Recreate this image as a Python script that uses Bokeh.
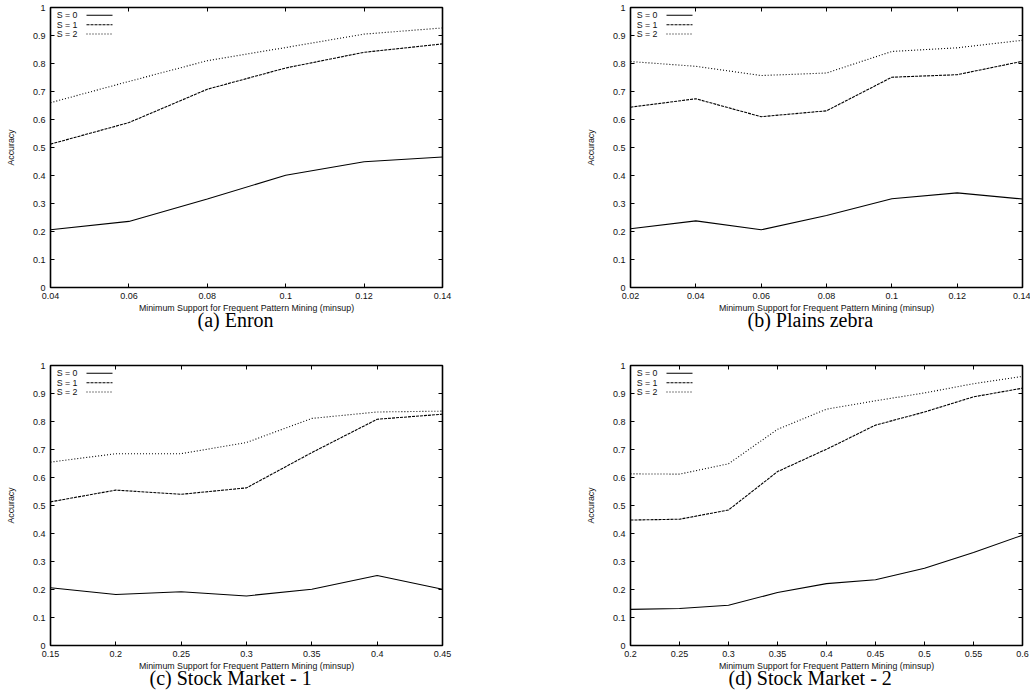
from bokeh.plotting import figure
from bokeh.models import Range1d, FixedTicker, LinearAxis, Label, Arrow, Title
from bokeh.layouts import column, row
from bokeh.embed import file_html
from bokeh.resources import INLINE

# ---------------- data ----------------
Y_TICKS = [0, 0.1, 0.2, 0.3, 0.4, 0.5, 0.6, 0.7, 0.8, 0.9, 1]
Y_TICK_LABELS = ["0", "0.1", "0.2", "0.3", "0.4", "0.5", "0.6", "0.7", "0.8", "0.9", "1"]

SERIES_NAMES = ["S = 0", "S = 1", "S = 2"]
X_TITLE = "Minimum Support for Frequent Pattern Mining (minsup)"
Y_TITLE = "Accuracy"

# (a) Enron
A_X = [0.04, 0.06, 0.08, 0.1, 0.12, 0.14]
A_X_LABELS = ["0.04", "0.06", "0.08", "0.1", "0.12", "0.14"]
A_S0 = [0.206, 0.236, 0.316, 0.401, 0.449, 0.466]
A_S1 = [0.512, 0.589, 0.708, 0.784, 0.840, 0.870]
A_S2 = [0.660, 0.736, 0.810, 0.857, 0.905, 0.927]
A_CAPTION = "(a) Enron"

# (b) Plains zebra
B_X = [0.02, 0.04, 0.06, 0.08, 0.1, 0.12, 0.14]
B_X_LABELS = ["0.02", "0.04", "0.06", "0.08", "0.1", "0.12", "0.14"]
B_S0 = [0.210, 0.238, 0.206, 0.257, 0.317, 0.338, 0.316]
B_S1 = [0.644, 0.674, 0.610, 0.631, 0.751, 0.760, 0.808]
B_S2 = [0.807, 0.790, 0.757, 0.766, 0.843, 0.856, 0.883]
B_CAPTION = "(b) Plains zebra"

# (c) Stock Market - 1
C_X = [0.15, 0.2, 0.25, 0.3, 0.35, 0.4, 0.45]
C_X_LABELS = ["0.15", "0.2", "0.25", "0.3", "0.35", "0.4", "0.45"]
C_S0 = [0.206, 0.182, 0.192, 0.177, 0.201, 0.250, 0.201]
C_S1 = [0.513, 0.555, 0.540, 0.563, 0.689, 0.808, 0.826]
C_S2 = [0.655, 0.685, 0.685, 0.725, 0.811, 0.834, 0.837]
C_CAPTION = "(c) Stock Market - 1"

# (d) Stock Market - 2
D_X = [0.2, 0.25, 0.3, 0.35, 0.4, 0.45, 0.5, 0.55, 0.6]
D_X_LABELS = ["0.2", "0.25", "0.3", "0.35", "0.4", "0.45", "0.5", "0.55", "0.6"]
D_S0 = [0.129, 0.132, 0.144, 0.189, 0.221, 0.235, 0.276, 0.332, 0.394]
D_S1 = [0.448, 0.451, 0.484, 0.621, 0.701, 0.787, 0.834, 0.888, 0.919]
D_S2 = [0.613, 0.612, 0.649, 0.772, 0.844, 0.874, 0.902, 0.935, 0.961]
D_CAPTION = "(d) Stock Market - 2"

# ---------------- style ----------------
SANS = "Liberation Sans"
SERIF = "Liberation Serif"
DASHES = ["solid", "3 1", "1 2"]
LINE_W = 1.1
TICK_FS = "9px"
LABEL_FS = "8.8px"
CAP_FS = "20px"
FRAME_H = 280
KEY_ROWS = [7.8, 17.2, 26.5]


def make_panel(xs, xlabels, series, caption, cap_offset, width, height, right_b, bottom_b):
    p = figure(width=width, height=height, output_backend="svg", toolbar_location=None,
               x_range=Range1d(xs[0], xs[-1]), y_range=Range1d(0, 1),
               min_border_left=50, min_border_right=right_b, min_border_top=7,
               min_border_bottom=bottom_b, tools="")
    p.grid.visible = False
    p.outline_line_color = "black"
    p.outline_line_width = 1.6
    p.background_fill_color = "white"
    p.border_fill_color = "white"

    xover = dict(zip(xs, xlabels))
    yover = dict(zip(Y_TICKS, Y_TICK_LABELS))

    for ax, ticks, over in ((p.xaxis[0], xs, xover), (p.yaxis[0], Y_TICKS, yover)):
        ax.ticker = FixedTicker(ticks=ticks)
        ax.major_label_overrides = over
        ax.major_tick_in = 4
        ax.major_tick_out = 0
        ax.minor_tick_line_color = None
        ax.axis_line_color = None
        ax.major_tick_line_color = "black"
        ax.major_label_text_font = SANS
        ax.major_label_text_font_size = TICK_FS
        ax.major_label_text_color = "#111111"
        ax.major_label_standoff = 5
        ax.axis_label_text_font = SANS
        ax.axis_label_text_font_size = LABEL_FS
        ax.axis_label_text_font_style = "normal"
        ax.axis_label_text_color = "#111111"
    p.xaxis[0].axis_label = X_TITLE
    p.xaxis[0].axis_label_standoff = 1
    p.yaxis[0].axis_label = Y_TITLE
    p.yaxis[0].axis_label_standoff = 14

    # mirrored inward ticks on top and right (no labels drawn)
    for side, ticks in (("above", xs), ("right", Y_TICKS)):
        ax = LinearAxis(ticker=FixedTicker(ticks=ticks), major_tick_in=4, major_tick_out=0,
                        minor_tick_line_color=None, axis_line_color=None,
                        major_label_text_font_size="1px", major_label_text_color=None,
                        major_label_standoff=0, major_tick_line_color="black")
        p.add_layout(ax, side)

    for ys, dash in zip(series, DASHES):
        p.line(xs, ys, line_color="black", line_width=LINE_W, line_dash=dash)

    # gnuplot-style key: label then sample line
    for name, dash, dy in zip(SERIES_NAMES, DASHES, KEY_ROWS):
        yk = FRAME_H - dy
        p.add_layout(Label(x=27, y=yk, x_units="screen", y_units="screen", text=name,
                           text_align="right", text_baseline="middle",
                           text_font=SANS, text_font_size=LABEL_FS, text_color="#111111"))
        p.add_layout(Arrow(x_start=36, y_start=yk, x_end=62, y_end=yk,
                           start_units="screen", end_units="screen", end=None,
                           line_color="black", line_width=LINE_W, line_dash=dash))

    p.add_layout(Title(text=caption, align="left", offset=cap_offset, vertical_align="middle",
                       standoff=-15, text_font=SERIF, text_font_size=CAP_FS,
                       text_font_style="normal", text_color="black"), "below")
    return p


pa = make_panel(A_X, A_X_LABELS, [A_S0, A_S1, A_S2], A_CAPTION, 147, 580, 358, 138, 71)
pb = make_panel(B_X, B_X_LABELS, [B_S0, B_S1, B_S2], B_CAPTION, 117, 450, 358, 8, 71)
pc = make_panel(C_X, C_X_LABELS, [C_S0, C_S1, C_S2], C_CAPTION, 99, 580, 333, 138, 46)
pd = make_panel(D_X, D_X_LABELS, [D_S0, D_S1, D_S2], D_CAPTION, 98, 450, 333, 8, 46)

layout = column(row(pa, pb), row(pc, pd))
open("out.html", "w").write(file_html(layout, INLINE))
